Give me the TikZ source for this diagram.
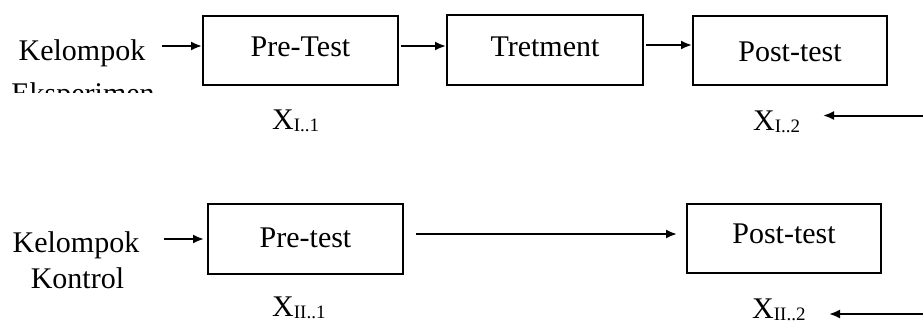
\documentclass[tikz,border=0pt]{standalone}
\usepackage{fontspec}
\setmainfont{Liberation Serif}
\usetikzlibrary{arrows.meta}
\newcommand{\xsubl}[1]{X{\fontsize{19}{19}\selectfont\raisebox{-2.5pt}{#1}}}
\begin{document}
\begin{tikzpicture}[x=1pt,y=-1pt,
  box/.style={draw, line width=2pt, inner sep=0pt, anchor=north west, font=\fontsize{30}{34}\selectfont},
  lbl/.style={inner sep=0pt, anchor=base, font=\fontsize{30}{34}\selectfont},
  arr/.style={line width=2pt, -{Latex[length=11pt,width=9pt]}}]
\useasboundingbox (0,0) rectangle (923,325);
% boxes
\node[box, minimum width=195pt, text height=40pt, text depth=29pt] (pre1) at (202,15) {Pre-Test};
\node[box, minimum width=196pt, text height=41pt, text depth=29pt] (tre) at (446,14) {Tretment};
\node[box, minimum width=194pt, text height=45pt, text depth=24pt] (post1) at (692,15) {Post-test};
\node[box, minimum width=195pt, text height=43pt, text depth=27pt] (pre2) at (207,203) {Pre-test};
\node[box, minimum width=194pt, text height=39pt, text depth=30pt] (post2) at (686,203) {Post-test};
% group labels
\node[lbl] (k1) at (82,60) {Kelompok};
\begin{scope}
  \clip (0,0) rectangle (200,92);
  \node[lbl] (e1) at (83,103) {Eksperimen};
\end{scope}
\node[lbl] (k2) at (76,252) {Kelompok};
\node[lbl] (k3) at (77.5,288) {Kontrol};
% X labels
\node[lbl, anchor=base west] (x11) at (272,129) {\xsubl{I..1}};
\node[lbl, anchor=base west] (x12) at (753,130) {\xsubl{I..2}};
\node[lbl, anchor=base west] (x21) at (272,316) {\xsubl{II..1}};
\node[lbl, anchor=base west] (x22) at (752,318) {\xsubl{II..2}};
% arrows top row
\path ([xshift=-40pt,yshift=4.5pt]pre1.west) coordinate (a1);
\draw[arr] (a1) -- (a1 -| pre1.west);
\path ([xshift=2pt,yshift=4.5pt]pre1.east) coordinate (a2);
\draw[arr] (a2) -- (a2 -| tre.west);
\path ([xshift=2pt,yshift=5pt]tre.east) coordinate (a3);
\draw[arr] (a3) -- (a3 -| post1.west);
% arrows bottom row
\path ([xshift=-43pt]pre2.west) coordinate (b1);
\draw[arr] (b1) -- ([xshift=-3pt]pre2.west);
\path ([xshift=12pt,yshift=5pt]pre2.east) coordinate (b2);
\path (b2 -| post2.west) coordinate (b2e);
\draw[arr] (b2) -- ([xshift=-9pt]b2e);
% right arrows
\coordinate (r1) at (923,115.5);
\coordinate (r1e) at (823,115.5);
\draw[arr] (r1) -- (r1e);
\coordinate (r2) at (923,314);
\coordinate (r2e) at (829,314);
\draw[arr] (r2) -- (r2e);
\end{tikzpicture}
\end{document}
